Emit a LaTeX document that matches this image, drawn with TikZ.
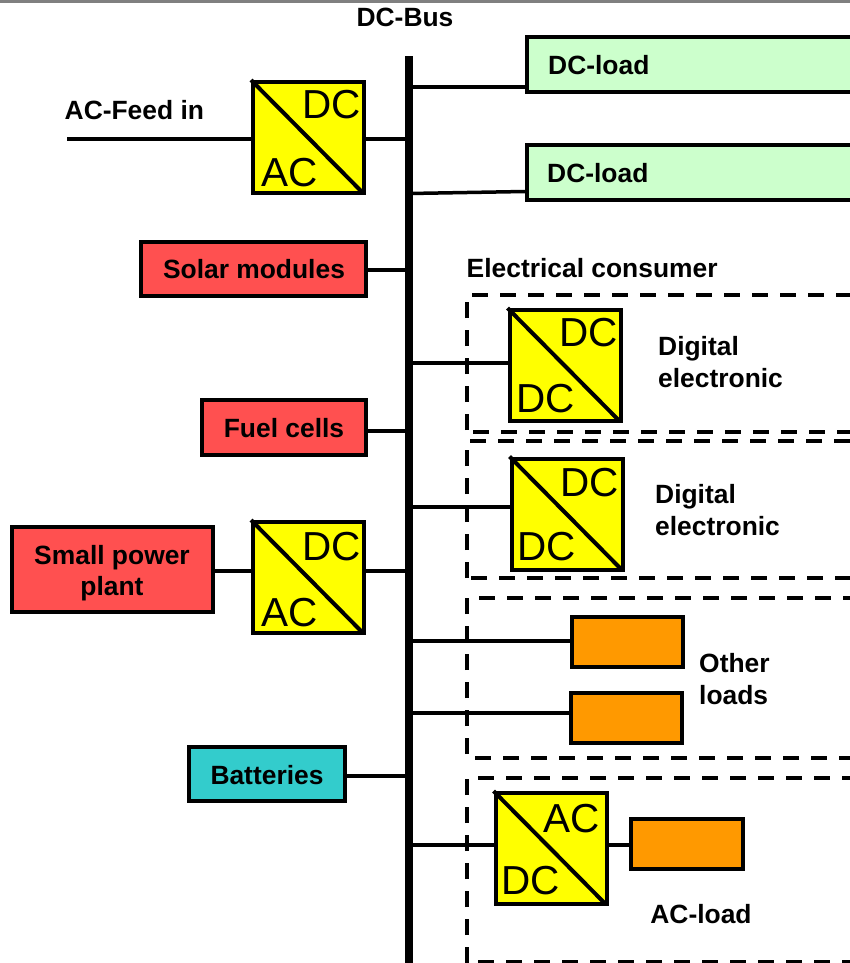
\documentclass[tikz,border=0pt]{standalone}
\usepackage{fontspec}
\setmainfont{Liberation Sans}
\definecolor{redfill}{HTML}{FF5050}
\definecolor{greenfill}{HTML}{CCFFCC}
\definecolor{orangefill}{HTML}{FF9900}
\definecolor{tealfill}{HTML}{33CCCC}
\definecolor{topgray}{HTML}{808080}
\definecolor{convfill}{HTML}{FFFF00}
\tikzset{
  x=1pt,y=-1pt,
  box/.style={draw=black,line width=4pt,rectangle,inner sep=0pt},
  conv/.style={box,fill=convfill,minimum width=111pt,minimum height=111pt},
  redbox/.style={box,fill=redfill},
  greenbox/.style={box,fill=greenfill,minimum width=340pt,minimum height=55pt},
  orangebox/.style={box,fill=orangefill,minimum width=111pt,minimum height=50pt},
  lbl/.style={inner sep=0pt,font=\fontsize{26.4}{31}\selectfont\bfseries,align=center},
  lblL/.style={inner sep=0pt,font=\fontsize{26.4}{32}\selectfont\bfseries,align=left},
  acdc/.style={inner sep=0pt,font=\fontsize{40.5}{41}\selectfont,anchor=base west},
  wire/.style={line width=3.5pt,black},
  diag/.style={line width=4pt,black},
  dashbox/.style={line width=4pt,black,dash pattern=on 16pt off 12pt},
}
\begin{document}
\begin{tikzpicture}
\clip (0,0) rectangle (850,963);
\fill[white] (0,0) rectangle (850,963);
\fill[topgray] (0,0) rectangle (850,3.5);
% bus
\node[fill=black,inner sep=0pt,minimum width=8pt,minimum height=912pt] (bus) at (409,512) {};
\node[lbl,anchor=base] (buslabel) at (405,27) {DC-Bus};
% dashed groups
\draw[dashbox] (467,430) -- (467,295) -- (870,295);
\draw[dashbox] (473,432) -- (870,432);
\draw[dashbox] (467,578) -- (467,441) -- (870,441);
\draw[dashbox] (471,578) -- (870,578);
\draw[dashbox] (467,754) -- (467,598) -- (870,598);
\draw[dashbox] (475,758) -- (870,758);
\draw[dashbox] (467,963) -- (467,778) -- (870,778);
\draw[dashbox] (478,962) -- (870,962);
\node[lbl,anchor=base west] (ec) at (466.5,277) {Electrical consumer};
% DC loads
\node[greenbox,anchor=west] (g1) at (525,65) {};
\node[greenbox,anchor=west] (g2) at (525,172) {};
\node[lbl,anchor=base west] (g1t) at (548,75) {DC-load};
\node[lbl,anchor=base west] (g2t) at (547,182) {DC-load};
\coordinate (g1c) at (525,87);
\coordinate (g2c) at (525,191.5);
\coordinate (g2b) at (409,193.5);
\draw[wire] (g1c) -- (g1c -| bus.center);
\draw[wire] (g2b) -- (g2c);
% AC feed
\node[conv] (c1) at (308.5,137.5) {};
\draw[diag] (c1.north west) -- ([shift={(-3,-2)}]c1.south east);
\node[acdc] (c1a) at (302,118) {DC};
\node[acdc] (c1b) at (261,186) {AC};
\node[lbl,anchor=base west] (acfeed) at (64.5,120) {AC-Feed in};
\coordinate (feed) at (67,139);
\draw[line width=4pt] (feed) -- (feed -| c1.west);
\draw[wire] (c1.east |- feed) -- (feed -| bus.center);
% solar
\node[redbox,minimum width=225pt,minimum height=54pt] (solar) at (253.5,269) {};
\node[lbl,anchor=base] at (254,278) (solart) {Solar modules};
\coordinate (s) at (368,270);
\draw[wire] (s) -- (s -| bus.center);
% fuel
\node[redbox,minimum width=164pt,minimum height=55pt] (fuel) at (284,427.5) {};
\node[lbl,anchor=base] (fuelt) at (284,437) {Fuel cells};
\coordinate (f) at (368,431);
\draw[wire] (f) -- (f -| bus.center);
% small power plant
\node[redbox,minimum width=201pt,minimum height=85pt] (spp) at (112.5,569.5) {};
\node[lbl] (sppt) at (112,573) {Small power\\plant};
\node[conv] (c4) at (308.5,577.5) {};
\draw[diag] (c4.north west) -- ([shift={(-3,-2)}]c4.south east);
\node[acdc] (c4a) at (302,560) {DC};
\node[acdc] (c4b) at (261,626) {AC};
\coordinate (p) at (215,571);
\draw[wire] (p) -- (p -| c4.west);
\draw[wire] (c4.east |- p) -- (p -| bus.center);
% batteries
\node[box,fill=tealfill,minimum width=156pt,minimum height=54pt] (bat) at (267,774) {};
\node[lbl,anchor=base] (batt) at (267,784) {Batteries};
\coordinate (b) at (347,776);
\draw[wire] (b) -- (b -| bus.center);
% digital electronics
\node[conv] (c2) at (565,365.5) {};
\draw[diag] (c2.north west) -- ([shift={(-3,-2)}]c2.south east);
\node[acdc] (c2a) at (559,346) {DC};
\node[acdc] (c2b) at (516,412) {DC};
\node[lblL,anchor=west] (d1) at (658,362) {Digital\\electronic};
\coordinate (w2) at (409,363);
\draw[wire] (w2) -- (w2 -| c2.west);
\node[conv] (c3) at (567,514) {};
\draw[diag] (c3.north west) -- ([shift={(-3,-2)}]c3.south east);
\node[acdc] (c3a) at (560,496) {DC};
\node[acdc] (c3b) at (517,560) {DC};
\node[lblL,anchor=west] (d2) at (655,510) {Digital\\electronic};
\coordinate (w3) at (409,507);
\draw[wire] (w3) -- (w3 -| c3.west);
% other loads
\node[orangebox] (o1) at (627.5,642) {};
\node[orangebox] (o2) at (626.5,718) {};
\node[lblL,anchor=west] (ol) at (699,679) {Other\\loads};
\coordinate (w5) at (409,641);
\coordinate (w6) at (409,713);
\draw[wire] (w5) -- (w5 -| o1.west);
\draw[wire] (w6) -- (w6 -| o2.west);
% AC load
\node[conv] (c5) at (551,848.5) {};
\draw[diag] (c5.north west) -- ([shift={(-3,-2)}]c5.south east);
\node[acdc] (c5a) at (543,832) {AC};
\node[acdc] (c5b) at (501,894) {DC};
\node[orangebox,minimum width=112pt] (o3) at (687,844) {};
\node[lbl,anchor=base] (acl) at (701,923) {AC-load};
\coordinate (w7) at (409,845);
\draw[wire] (w7) -- (w7 -| c5.west);
\draw[wire] (c5.east |- w7) -- (o3.west |- w7);
\end{tikzpicture}
\end{document}
